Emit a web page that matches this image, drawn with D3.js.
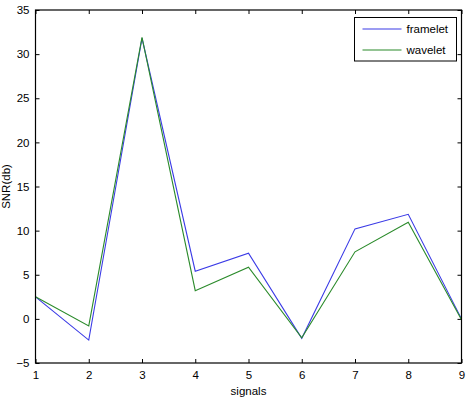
<!DOCTYPE html>
<html>
<head>
<meta charset="utf-8">
<script src="https://cdn.jsdelivr.net/npm/d3@7"></script>
<style>
  body { margin: 0; background: #fff; }
  text { font-family: "Liberation Sans", Arial, sans-serif; }
</style>
</head>
<body>
<div id="chart"></div>
<script>
// data
var signals = [1, 2, 3, 4, 5, 6, 7, 8, 9];
var framelet = [2.5, -2.4, 31.8, 5.4, 7.45, -2.2, 10.2, 11.85, 0];
var wavelet = [2.5, -0.8, 31.9, 3.2, 5.85, -2.15, 7.6, 10.95, -0.1];
var xTicks = [1, 2, 3, 4, 5, 6, 7, 8, 9];
var yTicks = [-5, 0, 5, 10, 15, 20, 25, 30, 35];

var svgWidth = 467;
var svgHeight = 400;
var margin = { top: 10, right: 5.5, bottom: 37, left: 35.5 };
var chartWidth = svgWidth - margin.left - margin.right;
var chartHeight = svgHeight - margin.top - margin.bottom;
var fontSize = 11.5;

var svg = d3.select("#chart").append("svg")
  .attr("width", svgWidth)
  .attr("height", svgHeight);

var chartGroup = svg.append("g")
  .attr("transform", `translate(${margin.left}, ${margin.top})`);

var x = d3.scaleLinear().domain([1, 9]).range([0, chartWidth]);
var y = d3.scaleLinear().domain([-5, 35]).range([chartHeight, 0]);

// axes, ticks point inward like matlab
var bottomAxis = d3.axisBottom(x).tickValues(xTicks).tickSize(-4).tickPadding(8);
var leftAxis = d3.axisLeft(y).tickValues(yTicks).tickSize(-4).tickPadding(6);
var topAxis = d3.axisTop(x).tickValues(xTicks).tickSize(-4).tickFormat("");
var rightAxis = d3.axisRight(y).tickValues(yTicks).tickSize(-4).tickFormat("");

function styleAxis(g) {
  g.select(".domain").remove();
  g.selectAll("line").attr("stroke", "#000");
  g.selectAll("text").attr("font-size", fontSize).attr("fill", "#000");
}

chartGroup.append("g").attr("transform", `translate(0, ${chartHeight})`).call(bottomAxis).call(styleAxis);
chartGroup.append("g").call(leftAxis).call(styleAxis);
chartGroup.append("g").call(topAxis).call(styleAxis);
chartGroup.append("g").attr("transform", `translate(${chartWidth}, 0)`).call(rightAxis).call(styleAxis);

// lines
var line = d3.line()
  .x((d, i) => x(signals[i]))
  .y(d => y(d));

chartGroup.append("path")
  .datum(framelet)
  .attr("d", line)
  .attr("fill", "none")
  .attr("stroke", "#3a3ae6")
  .attr("stroke-width", 1.1);

chartGroup.append("path")
  .datum(wavelet)
  .attr("d", line)
  .attr("fill", "none")
  .attr("stroke", "#2a8a2a")
  .attr("stroke-width", 1.1);

// box
chartGroup.append("rect")
  .attr("width", chartWidth)
  .attr("height", chartHeight)
  .attr("fill", "none")
  .attr("stroke", "#000")
  .attr("stroke-width", 1.2);

// labels
svg.append("text")
  .attr("x", margin.left + chartWidth / 2)
  .attr("y", 395)
  .attr("text-anchor", "middle")
  .attr("font-size", fontSize)
  .text("signals");

svg.append("text")
  .attr("transform", `translate(10, ${margin.top + chartHeight / 2}) rotate(-90)`)
  .attr("text-anchor", "middle")
  .attr("font-size", fontSize)
  .text("SNR(db)");

// legend
var legend = svg.append("g").attr("transform", "translate(354.5, 17.5)");
legend.append("rect")
  .attr("width", 102)
  .attr("height", 43.5)
  .attr("fill", "#fff")
  .attr("stroke", "#000")
  .attr("stroke-width", 1);

var series = [
  { name: "framelet", color: "#3a3ae6" },
  { name: "wavelet", color: "#2a8a2a" }
];
series.forEach(function(s, i) {
  var yy = 11.5 + i * 21;
  legend.append("line")
    .attr("x1", 8).attr("x2", 47)
    .attr("y1", yy).attr("y2", yy)
    .attr("stroke", s.color)
    .attr("stroke-width", 1.1);
  legend.append("text")
    .attr("x", 52)
    .attr("y", yy + 4)
    .attr("font-size", fontSize)
    .text(s.name);
});
</script>
</body>
</html>
